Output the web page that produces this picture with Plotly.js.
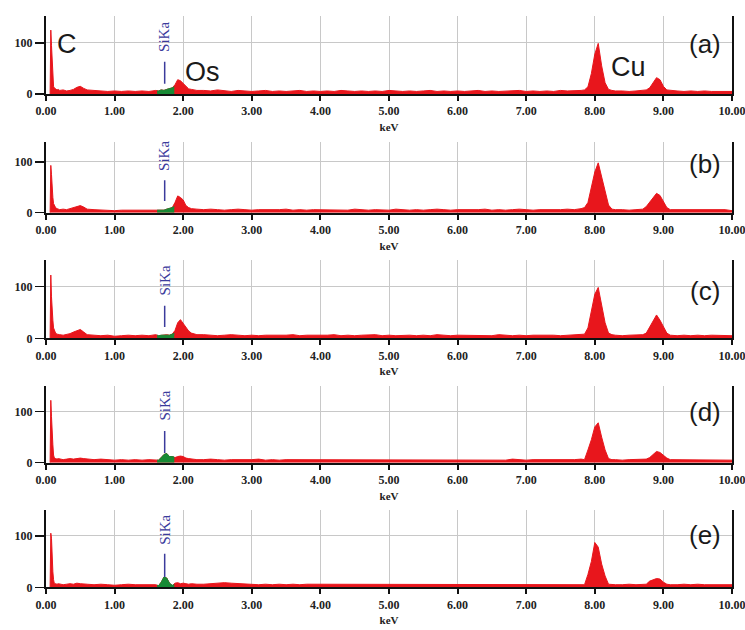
<!DOCTYPE html>
<html>
<head>
<meta charset="utf-8">
<script src="https://cdn.plot.ly/plotly-3.0.1.min.js"></script>
<style>html,body{margin:0;padding:0;background:#fff;}#chart{width:745px;height:630px;}</style>
</head>
<body>
<div id="chart"></div>
<script>
// Energy channels (keV)
const energy = [0.06,0.07,0.08,0.09,0.10,0.11,0.12,0.14,0.16,0.18,0.20,0.25,0.30,0.35,0.40,0.45,0.50,0.55,0.60,0.70,0.80,0.90,1.00,1.10,1.20,1.30,1.40,1.50,1.60,
1.64,1.68,1.72,1.76,1.80,1.84,1.88,1.92,1.96,2.00,2.04,2.08,2.12,2.16,2.20,
2.30,2.40,2.50,2.60,2.70,2.80,2.90,3.00,3.10,3.20,
3.30,3.40,3.50,3.60,3.70,3.80,3.90,4.00,4.10,4.20,
4.30,4.40,4.50,4.60,4.70,4.80,4.90,5.00,5.10,5.20,
5.30,5.40,5.50,5.60,5.70,5.80,5.90,6.00,6.10,6.20,
6.30,6.40,6.50,6.60,6.70,6.80,6.90,7.00,7.10,7.20,
7.30,7.40,7.50,7.60,7.70,7.80,
7.85,7.90,7.95,8.00,8.05,8.10,8.15,8.20,8.25,8.30,8.40,8.50,8.60,8.70,8.75,8.80,8.85,8.90,8.95,9.00,9.05,9.10,
9.20,9.30,9.40,9.50,9.60,9.70,9.80,9.90,10.00];

const countsA = [0,125,95,55,30,15,12,10,8,9,7,8,6,7,9,13,15,11,8,7,6,5,6,5,6,5,6,5,7,
6,8,7,9,10,12,18,28,26,20,14,10,9,8,7,
7,6,8,6,5,7,6,5,6,7,
5,6,5,6,7,5,6,5,6,5,
7,6,5,6,5,6,5,7,6,5,
6,5,6,7,5,6,5,6,5,6,
7,5,6,5,6,6,7,5,6,5,
6,5,7,6,6,7,
8,14,40,78,99,55,22,9,7,6,6,5,6,7,8,12,22,32,28,15,8,7,
6,5,6,5,6,5,5,6,5];

const countsB = [0,93,75,45,30,18,14,10,8,7,6,7,6,8,10,13,14,11,7,6,5,5,4,5,5,6,5,6,6,
5,6,5,7,8,10,20,33,30,25,14,10,8,7,7,
6,7,6,5,6,7,6,5,6,6,
5,6,7,5,6,5,6,6,5,6,
6,5,7,6,5,6,6,5,7,6,
5,6,5,6,7,6,5,6,6,5,
6,7,5,6,5,6,7,6,5,6,
6,5,6,7,6,8,
10,20,50,80,98,70,40,15,7,6,6,5,6,7,12,20,30,38,34,22,10,6,
6,5,6,6,5,6,5,6,4];

const countsC = [0,122,80,40,35,20,15,10,8,8,7,6,7,9,12,15,17,12,7,6,5,6,4,5,6,5,6,5,7,
5,6,6,7,6,8,15,30,36,28,22,14,10,8,7,
7,6,5,6,7,6,5,6,5,6,
6,5,6,7,5,6,6,5,6,7,
5,6,5,6,6,7,5,6,5,6,
6,5,6,5,7,6,5,6,6,5,
6,6,5,7,6,5,6,5,6,6,
7,6,5,6,7,8,
8,20,55,85,98,65,30,10,7,6,5,6,6,7,10,22,32,45,35,22,10,6,
5,6,5,6,5,6,6,5,5];

const countsD = [0,122,90,45,35,15,10,8,7,8,7,6,7,8,7,8,9,8,7,6,7,6,5,6,5,6,5,6,6,
5,10,16,18,12,12,10,12,13,12,9,8,7,7,6,
6,7,6,5,6,6,5,6,7,5,
6,5,6,6,5,6,5,6,5,6,
6,5,6,5,6,6,5,6,5,6,
5,6,6,5,6,5,6,6,5,6,
6,5,6,6,5,7,6,5,6,6,
5,6,6,5,6,7,
6,25,45,70,78,50,25,8,6,6,5,6,6,6,7,10,16,22,20,15,9,6,
6,5,6,5,6,5,5,6,5];

const countsE = [0,105,95,50,30,15,8,7,6,7,6,5,6,7,6,8,7,6,6,5,6,5,4,5,6,5,5,6,5,
3,10,20,18,8,3,8,9,7,8,7,6,7,6,6,
6,7,8,9,8,7,6,6,5,6,
5,6,5,6,5,6,6,5,6,5,
6,5,6,5,6,6,5,6,5,6,
5,6,5,6,5,6,6,5,6,5,
6,5,6,5,6,6,5,6,5,6,
6,5,6,5,6,6,
5,25,50,87,78,45,22,6,5,5,5,6,5,6,6,12,15,17,16,10,6,5,
5,6,5,6,5,5,6,5,5];

// Si Ka region (green)
const siEnergy = [1.62,1.64,1.68,1.72,1.76,1.80,1.84,1.87];
const siA = [6,6,8,7,9,10,12,14];
const siB = [5,5,6,5,7,8,10,12];
const siC = [6,5,6,6,7,6,8,10];
const siD = [5,5,10,16,18,12,12,11];
const siE = [4,3,10,20,18,8,4,5];

// Si Ka marker line (keV, low, high)
const siKaEnergy = 1.73;
const siLineLow = [20,23,22,19,20];
const siLineHigh = [63,64,63,62,65];

const panelLabels = ['(a)','(b)','(c)','(d)','(e)'];
const tickValues = [0,1,2,3,4,5,6,7,8,9,10];

const allCounts = [countsA,countsB,countsC,countsD,countsE];
const allSi = [siA,siB,siC,siD,siE];

const domains = [[0.85079,0.97413],[0.66238,0.77460],[0.46302,0.58730],[0.26556,0.38730],[0.06778,0.19048]];
const yMax = [152,139,151,150,150];
const labelY = [98,95,92,100,102];

const RED = '#e8161c', GREEN = '#178a35', BLUE = '#3b3b9c';
const tickFont = {family:'Liberation Serif', size:12, color:'#222', weight:'bold'};

const traces = [];
const layout = {
  width:745, height:630,
  margin:{l:46, r:13, t:0, b:0},
  paper_bgcolor:'#fff', plot_bgcolor:'#fff',
  showlegend:false,
  annotations:[]
};

for (let i=0;i<5;i++){
  const sfx = i===0 ? '' : String(i+1);
  const xa = 'x'+sfx, ya = 'y'+sfx;
  traces.push({x:energy, y:allCounts[i], type:'scatter', mode:'lines', fill:'tozeroy',
    line:{color:RED, width:1}, fillcolor:RED, xaxis:xa, yaxis:ya, hoverinfo:'skip'});
  traces.push({x:siEnergy, y:allSi[i], type:'scatter', mode:'lines', fill:'tozeroy',
    line:{color:GREEN, width:1}, fillcolor:GREEN, xaxis:xa, yaxis:ya, hoverinfo:'skip'});
  traces.push({x:[siKaEnergy, siKaEnergy], y:[siLineLow[i], siLineHigh[i]], type:'scatter', mode:'lines',
    line:{color:BLUE, width:1.5}, xaxis:xa, yaxis:ya, hoverinfo:'skip'});

  layout['xaxis'+sfx] = {
    domain:[0,1], anchor:ya, range:[0,10], tickvals:tickValues, tickformat:'.2f',
    showgrid:true, gridcolor:'#c8c8c8', gridwidth:1,
    showline:true, linecolor:'#111', linewidth:2, mirror:false,
    ticks:'outside', ticklen:5, tickwidth:2, tickcolor:'#111',
    tickfont:tickFont, zeroline:false, ticklabeloverflow:'allow',
    title:{text:'keV', font:{family:'Liberation Serif', size:11, color:'#222', weight:'bold'}, standoff:6}
  };
  layout['yaxis'+sfx] = {
    domain:domains[i], anchor:xa, range:[0,yMax[i]], tickvals:[0,100],
    showgrid:true, gridcolor:'#c8c8c8', gridwidth:1,
    showline:true, linecolor:'#111', linewidth:2, mirror:true,
    ticks:'outside', ticklen:9, tickwidth:1.5, tickcolor:'#111',
    tickfont:tickFont, zeroline:false
  };

  layout.annotations.push({xref:xa, yref:ya, x:9.61, y:labelY[i], text:panelLabels[i], showarrow:false,
    xanchor:'center', yanchor:'middle', font:{family:'Liberation Sans', size:26, color:'#1a1a1a'}});
  layout.annotations.push({xref:xa, yref:ya, x:siKaEnergy, y:111, text:'SiKa', showarrow:false, textangle:-90,
    xanchor:'center', yanchor:'middle', font:{family:'Liberation Serif', size:15, color:BLUE}});
}
layout.annotations.push({xref:'x', yref:'y', x:0.31, y:98, text:'C', showarrow:false,
  xanchor:'center', yanchor:'middle', font:{family:'Liberation Sans', size:27, color:'#1a1a1a'}});
layout.annotations.push({xref:'x', yref:'y', x:2.28, y:44, text:'Os', showarrow:false,
  xanchor:'center', yanchor:'middle', font:{family:'Liberation Sans', size:27, color:'#1a1a1a'}});
layout.annotations.push({xref:'x', yref:'y', x:8.49, y:53, text:'Cu', showarrow:false,
  xanchor:'center', yanchor:'middle', font:{family:'Liberation Sans', size:27, color:'#1a1a1a'}});

Plotly.newPlot('chart', traces, layout, {staticPlot:true, displayModeBar:false});
</script>
</body>
</html>
